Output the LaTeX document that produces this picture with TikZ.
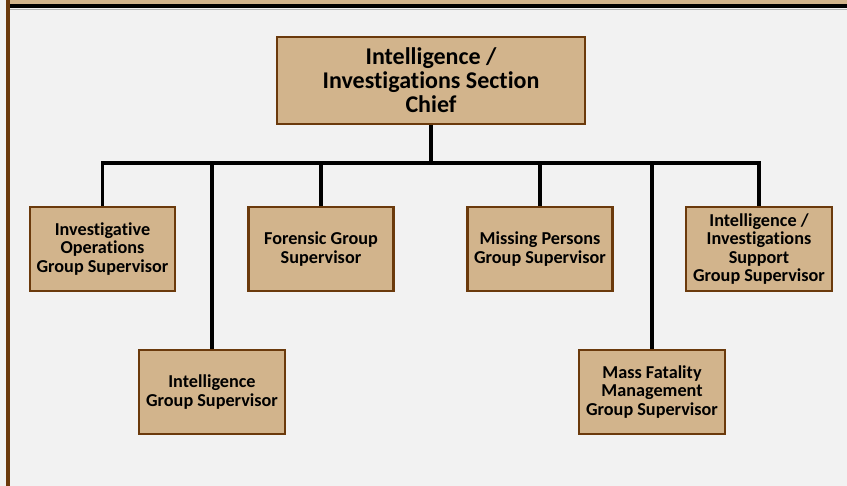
\documentclass[tikz,border=0pt]{standalone}
\usepackage{fontspec}
\setmainfont{Carlito}[Ligatures=NoCommon]
\definecolor{pagebg}{HTML}{F2F2F2}
\definecolor{boxfill}{HTML}{D2B48C}
\definecolor{boxline}{HTML}{6B3A0C}
\begin{document}
\begin{tikzpicture}[x=1bp,y=-1bp,
  orgbox/.style={draw=boxline, fill=boxfill, line width=2.5bp, inner sep=0pt,
    align=center, text=black, font=\bfseries\fontsize{18.2bp}{18.6bp}\selectfont,
    minimum width=145bp, minimum height=84bp},
  chiefbox/.style={orgbox, font=\bfseries\fontsize{24bp}{24bp}\selectfont,
    minimum width=308bp, minimum height=87bp},
  wire/.style={draw=black, line width=3.5bp}]
  % page frame
  \useasboundingbox (0,0) rectangle (847,486);
  \fill[pagebg] (0,0) rectangle (847,486);
  \fill[boxfill] (10,0) rectangle (847,4.3);
  \fill[black] (10,4.3) rectangle (847,8.5);
  \draw[gray!60, line width=0.8bp] (10,9) -- (847,9);
  \fill[boxline] (6,0) rectangle (10,486);

  % chart boxes
  \node[chiefbox] (chief) at (431,80.5) {Intelligence /\\Investigations Section\\Chief};
  \node[orgbox] (invops) at (102.5,249) {Investigative\\Operations\\Group Supervisor};
  \node[orgbox] (forensic) at (321,249) {Forensic Group\\Supervisor};
  \node[orgbox] (missing) at (540,249) {Missing Persons\\Group Supervisor};
  \node[orgbox, minimum width=146bp] (support) at (759,249) {Intelligence /\\Investigations\\Support\\Group Supervisor};
  \node[orgbox, minimum width=146bp] (intel) at (212,392) {Intelligence\\Group Supervisor};
  \node[orgbox, minimum width=146bp] (massfat) at (652,392) {Mass Fatality\\Management\\Group Supervisor};

  % connectors
  \coordinate (bus) at (431,163);
  \draw[wire] (chief.south) -- (bus);
  \draw[wire] (invops.north) -- (invops.north |- bus) -- (support.north |- bus) -- (support.north);
  \foreach \n in {forensic,missing,intel,massfat}
    \draw[wire] (\n.north) -- (\n.north |- bus);
\end{tikzpicture}
\end{document}
